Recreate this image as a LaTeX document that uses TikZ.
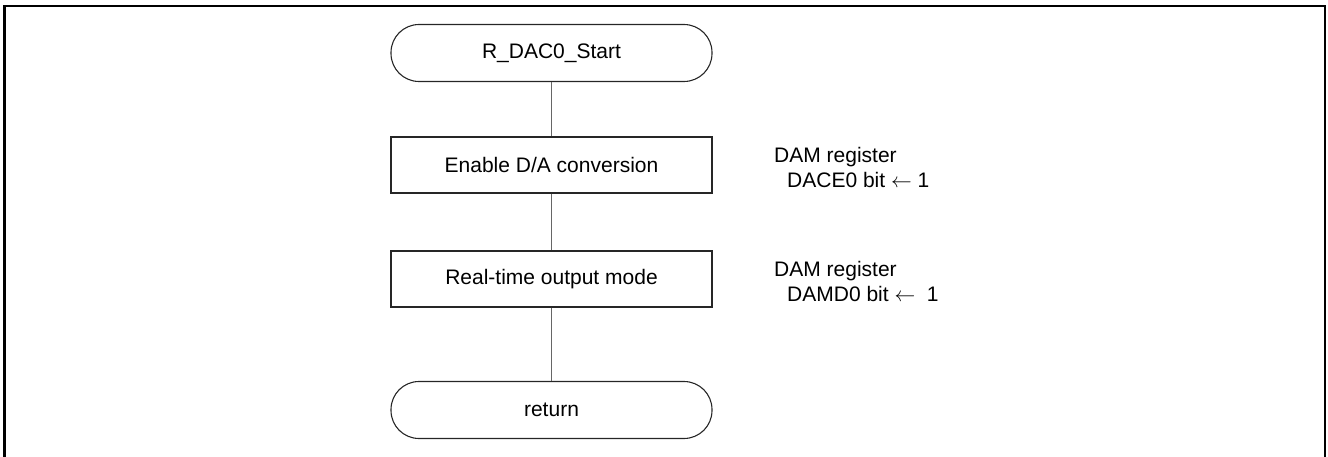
\documentclass[tikz,border=0pt]{standalone}
\usepackage{fontspec}
\setmainfont{Liberation Sans}
\begin{document}
\begin{tikzpicture}[x=1pt,y=-1pt,
  every node/.style={font=\fontsize{21}{25}\selectfont},
  procbox/.style={draw=black!85, line width=1.1pt, rectangle, minimum width=321pt, minimum height=56pt, inner sep=0pt},
  termbox/.style={draw=black!85, line width=1.1pt, rectangle, rounded corners=28pt, minimum width=321pt, minimum height=57pt, inner sep=0pt},
  notebox/.style={anchor=west, align=left, inner sep=0pt},
  flow/.style={draw=black!60, line width=1.3pt}
]
\useasboundingbox (0,0) rectangle (1328,457);
% frame (bottom edge is outside the picture)
\draw[line width=2.2pt] (4.5,460) -- (4.5,6) -- (1325,6) -- (1325,460);

\node[termbox] (start) at (551.5,53) {R\_DAC0\_Start};
\node[procbox] (enable) at (551.5,165) {Enable D/A conversion};
\node[procbox] (rt) at (551.5,279) {Real-time output mode};
\node[termbox] (ret) at (551.5,410) {return};

\node[notebox] (n1) at (774,167) {DAM register\\\hspace{13pt}DACE0 bit $\leftarrow$ 1};
\node[notebox] (n2) at (774,281) {DAM register\\\hspace{13pt}DAMD0 bit $\leftarrow$\ \ 1};

\draw[flow] (start) -- (enable);
\draw[flow] (enable) -- (rt);
\draw[flow] (rt) -- (ret);
\end{tikzpicture}
\end{document}
